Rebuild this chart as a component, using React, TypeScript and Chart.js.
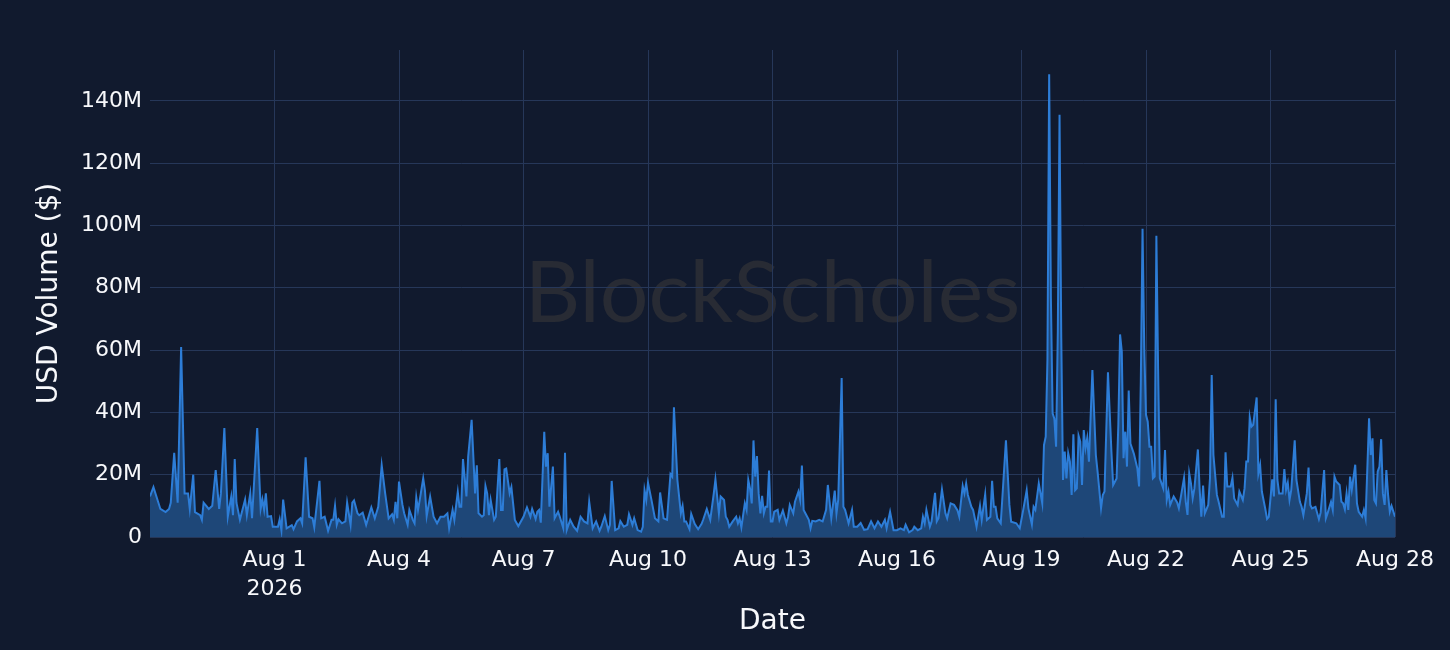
import { useEffect, useRef } from 'react';
import { Chart, registerables, Plugin } from 'chart.js';

Chart.register(...registerables);

// hours since Jul 29 2026 00:00 (hourly samples)
const hours = [
  0, 2, 6, 9, 11, 12, 14, 16, 18, 20, 22, 23, 25, 26, 29, 30, 31, 34, 36, 38, 40, 41, 43, 45, 47, 48, 49, 50, 52, 55,
  56, 58, 59, 62, 64, 65, 66, 67, 68, 70, 71, 74, 75, 76, 77, 79, 82, 83, 85, 87, 88, 90, 92, 94, 95, 98, 99, 101, 103, 105,
  106, 107, 108, 109, 111, 113, 114, 116, 117, 118, 120, 121, 123, 125, 128, 130, 132, 134, 136, 138, 140, 141, 142, 143, 144, 146, 147, 149, 150, 152,
  153, 154, 155, 156, 158, 159, 160, 162, 164, 166, 168, 170, 172, 173, 175, 176, 178, 179, 180, 181, 183, 184, 186, 188, 189, 190, 192, 193, 194, 195,
  196, 197, 199, 200, 202, 203, 204, 205, 206, 208, 209, 211, 213, 216, 218, 220, 221, 223, 224, 225, 226, 228, 229, 230, 231, 233, 234, 236, 237, 239,
  240, 241, 243, 245, 247, 249, 251, 253, 254, 256, 258, 260, 261, 263, 265, 266, 267, 269, 271, 272, 274, 276, 277, 279, 280, 282, 284, 285, 286, 287,
  288, 290, 292, 294, 295, 297, 299, 301, 302, 303, 305, 307, 308, 309, 310, 312, 313, 315, 317, 319, 320, 322, 324, 326, 327, 329, 330, 332, 333, 334,
  335, 337, 339, 340, 341, 342, 344, 345, 346, 347, 348, 349, 350, 351, 352, 353, 354, 355, 356, 357, 358, 359, 360, 361, 363, 364, 366, 368, 369, 370,
  372, 373, 375, 376, 377, 378, 379, 381, 382, 383, 385, 387, 389, 391, 392, 394, 396, 397, 398, 400, 401, 402, 404, 406, 407, 409, 411, 413, 415, 417,
  419, 421, 423, 425, 426, 428, 430, 432, 434, 436, 437, 439, 441, 442, 444, 446, 447, 448, 449, 451, 452, 454, 455, 456, 458, 460, 461, 463, 465, 467,
  468, 470, 471, 472, 473, 475, 476, 478, 480, 481, 483, 484, 486, 487, 488, 489, 490, 492, 495, 497, 498, 501, 503, 505, 507, 508, 510, 511, 512, 514,
  516, 517, 518, 519, 520, 521, 522, 523, 524, 525, 526, 527, 528, 529, 530, 531, 532, 533, 534, 535, 536, 537, 538, 539, 540, 541, 542, 543, 545, 547,
  548, 550, 551, 552, 554, 556, 557, 559, 560, 561, 562, 563, 564, 565, 566, 567, 569, 571, 572, 573, 574, 575, 576, 577, 578, 579, 580, 581, 582, 583,
  584, 585, 586, 587, 588, 589, 590, 592, 594, 595, 596, 598, 599, 600, 601, 602, 603, 604, 606, 607, 608, 609, 610, 612, 613, 614, 615, 617, 618, 620,
  621, 622, 623, 625, 626, 627, 629, 630, 632, 633, 634, 635, 636, 637, 638, 640, 641, 642, 643, 645, 646, 647, 649, 650, 651, 652, 653, 655, 656, 657,
  658, 659, 660, 662, 663, 665, 666, 667, 669, 670, 671, 672, 674, 676, 677, 679, 680, 681, 683, 684, 685, 686, 688, 689, 690, 691, 692, 693, 694, 695,
  697, 698, 699, 701, 702, 703, 705, 706, 707, 708, 709, 710, 711, 712, 713, 714, 715, 716, 717, 718, 720,
];

// USD volume in millions
const volumesM = [
  13, 16, 9, 8, 9, 11, 27, 11, 61, 14, 14, 9, 20, 8, 7, 5.5, 11, 9, 10, 21.5, 9, 14, 35, 6.5, 13, 7, 25, 11, 5.5, 12,
  7, 14, 6, 35, 9, 12, 8.7, 14, 6.5, 6.7, 3.3, 3.3, 5.7, 2.2, 12, 2.8, 3.8, 2.5, 5, 6, 4.4, 25.6, 6.5, 6, 3.1, 18, 6, 6.5, 2, 5.5,
  5.5, 10, 3.9, 5.7, 4.4, 5, 11, 3.9, 11, 11.7, 7.6, 7, 7.8, 3.9, 9.5, 6, 9.7, 23, 14, 6, 7.3, 5.5, 11.3, 6, 17.8, 10.3, 7.6, 3.9, 8.7, 5.5,
  4.4, 12.7, 8.7, 11.9, 18.8, 15, 6.7, 13, 6.5, 4.4, 6.5, 6.5, 7.6, 2.8, 8.7, 5.5, 14.5, 9.7, 9.7, 25, 13, 25.8, 37.6, 14, 23, 7.6, 6.5, 7, 16.4, 14,
  7, 11.9, 5.5, 6.5, 25, 8.7, 8.7, 21.7, 22, 14, 16, 5.5, 3.5, 6.5, 9.5, 6.5, 9, 5.8, 8.1, 8.7, 4.6, 33.8, 22.6, 26.9, 9.7, 22.6, 6, 8.1, 6.5, 2.8,
  27, 2.2, 5.5, 3.3, 2, 6.5, 5, 4.4, 11.3, 2.8, 5, 2, 3.3, 6.7, 2.2, 3.9, 18, 2.2, 2.8, 5.1, 3.3, 3.9, 7.3, 3.9, 6, 2.2, 1.7, 3.3, 15, 11.9,
  17.4, 11.9, 6, 5, 14.3, 6, 5.5, 20.2, 19.4, 41.6, 18.3, 7.6, 10, 5, 5, 2.5, 7.4, 4.2, 2.5, 4.2, 5.7, 9, 5.5, 13.8, 18.5, 7.6, 13, 11.9, 6.5, 5.5,
  3.3, 5, 6.5, 4.4, 6, 3.1, 10.8, 8.7, 18.3, 15.6, 10.8, 31, 19.4, 26, 14, 7.6, 13.2, 7.6, 9.7, 9.7, 21.3, 5, 5, 8.1, 8.7, 5.5, 8.5, 4.4, 6.5, 10.3,
  7.6, 11.3, 14.6, 11.9, 22.9, 8.7, 7.6, 5.5, 2.8, 5.2, 5, 5.5, 5, 8.7, 16.7, 6, 14.9, 7.6, 11.9, 51, 9.7, 8.7, 4.4, 8.7, 3.3, 3.3, 4.5, 2.3, 2.5, 5,
  2.8, 5, 3.3, 5.5, 2.8, 8.1, 2.2, 2.2, 2.8, 2.2, 3.9, 1.5, 2.2, 3.3, 2.2, 2.8, 6.5, 4.4, 8.7, 3.3, 5, 14.2, 5, 6, 15.3, 7.6, 6, 10.8, 10.3, 8.5,
  6.5, 16.4, 14, 17.2, 13.5, 9.7, 8.7, 3.3, 10, 5.5, 13.7, 5.5, 6.5, 18, 9.7, 9.7, 6, 4.4, 31, 10.3, 4.9, 4.4, 2.8, 8.7, 15, 9.2, 4, 9.7, 8.7, 17.2,
  10.8, 29.5, 32.2, 57, 148.5, 76.6, 39.7, 38, 29, 66, 135.5, 63.8, 18.3, 27.4, 18.8, 26.9, 24.2, 13.5, 33, 15, 15.6, 32.5, 30.6, 16.7, 34.3, 28.5, 31.7, 24.2, 53.6, 26.3,
  21, 9.2, 13.5, 14.6, 52.9, 27.4, 16.7, 18.8, 36, 65, 59.5, 25.3, 33.8, 22.6, 47, 30, 26.7, 22, 16.2, 49.9, 98.9, 60.6, 39.2, 37, 29, 29, 18.8, 19.4, 96.7, 54,
  18.8, 17.2, 15.6, 27.9, 11.9, 14.6, 10.3, 13, 11.1, 9.2, 12.4, 19, 11.3, 7.1, 20.4, 17.2, 12.4, 15.6, 28.1, 15.6, 6.5, 16.5, 7.6, 10.3, 18.8, 52, 26.3, 13.5, 11.3, 6.5,
  6.5, 27.2, 16.2, 16.2, 19, 12.4, 10.3, 14.6, 11.9, 15.6, 24.2, 24.2, 38.4, 35.4, 36, 44.8, 20.4, 23.1, 14.6, 9, 5.8, 6.5, 18.5, 13, 44.2, 18.3, 14, 14, 21.8, 15.1,
  17.4, 11.9, 15.1, 31, 18.3, 11.3, 9.7, 7, 14, 22.3, 10.3, 9.2, 9.7, 5.7, 7.8, 21.5, 6, 7.6, 11.3, 8.7, 19.4, 17.8, 16.7, 11.3, 10.8, 8.9, 14, 8.7, 19.4, 15.1,
  23.2, 10.8, 8.1, 6.5, 8.7, 6, 38.1, 26.3, 31.7, 11.9, 10.8, 21, 22.6, 31.4, 14, 10.3, 21.5, 13.5, 8.1, 10, 6.5,
];

const xTickHours = [72, 144, 216, 288, 360, 432, 504, 576, 648, 720];
const xTickLabels: (string | string[])[] = [
  ['Aug 1', '2026'], 'Aug 4', 'Aug 7', 'Aug 10', 'Aug 13', 'Aug 16', 'Aug 19', 'Aug 22', 'Aug 25', 'Aug 28',
];
const yTicks = [0, 20, 40, 60, 80, 100, 120, 140];
const yTickLabels = ['0', '20M', '40M', '60M', '80M', '100M', '120M', '140M'];

const BG = '#111a2e';
const GRID = '#263759';
const TEXT = '#f7f8fb';

// faint brand text behind the plot
const watermark: Plugin = {
  id: 'watermark',
  beforeDraw(chart) {
    const { ctx, chartArea } = chart;
    ctx.save();
    ctx.font = '86px Lato';
    ctx.fillStyle = '#282b34';
    ctx.textAlign = 'center';
    ctx.textBaseline = 'alphabetic';
    ctx.fillText(
      'BlockScholes',
      (chartArea.left + chartArea.right) / 2,
      chartArea.top + (chartArea.bottom - chartArea.top) * 0.558,
    );
    ctx.restore();
  },
};

export default function App() {
  const canvasRef = useRef<HTMLCanvasElement>(null);

  useEffect(() => {
    if (!canvasRef.current) return;

    const points = hours.map((h, i) => ({ x: h, y: volumesM[i] }));
    const tickFont = { family: 'DejaVu Sans', size: 22, lineHeight: 1.3 };
    const titleFont = { family: 'DejaVu Sans', size: 28, lineHeight: 1.2 };

    const chart = new Chart(canvasRef.current, {
      type: 'line',
      data: {
        datasets: [{
          label: 'USD Volume',
          data: points,
          borderColor: '#2d7dd7',
          backgroundColor: '#1e4778',
          borderWidth: 2,
          pointRadius: 0,
          tension: 0,
          fill: 'origin',
        }],
      },
      options: {
        animation: false,
        responsive: true,
        maintainAspectRatio: false,
        layout: { padding: { top: 50, right: 55, left: 0, bottom: 0 } },
        plugins: {
          legend: { display: false },
          tooltip: { enabled: false },
        },
        scales: {
          x: {
            type: 'linear',
            min: 0,
            max: 720,
            afterBuildTicks: (scale) => {
              scale.ticks = xTickHours.map(v => ({ value: v }));
            },
            afterFit: (scale) => {
              scale.height = 113;
            },
            ticks: {
              color: TEXT,
              font: tickFont,
              padding: 9,
              maxRotation: 0,
              autoSkip: false,
              callback: (value) => xTickLabels[xTickHours.indexOf(Number(value))] ?? '',
            },
            grid: { color: GRID, lineWidth: 1, drawTicks: false },
            border: { display: false },
            title: {
              display: true,
              text: 'Date',
              color: TEXT,
              font: titleFont,
              padding: { top: 0, bottom: 11 },
            },
          },
          y: {
            type: 'linear',
            min: 0,
            max: 156.3,
            afterBuildTicks: (scale) => {
              scale.ticks = yTicks.map(v => ({ value: v }));
            },
            afterFit: (scale) => {
              scale.width = 150;
            },
            ticks: {
              color: TEXT,
              font: tickFont,
              padding: 8,
              callback: (value) => yTickLabels[yTicks.indexOf(Number(value))] ?? '',
            },
            grid: { color: GRID, lineWidth: 1, drawTicks: false },
            border: { display: false },
            title: {
              display: true,
              text: 'USD Volume ($)',
              color: TEXT,
              font: titleFont,
              padding: { top: 33, bottom: 0 },
            },
          },
        },
      },
      plugins: [watermark],
    });

    return () => {
      chart.destroy();
    };
  }, []);

  return (
    <div style={{ position: 'fixed', left: 0, top: 0, width: 1450, height: 650, background: BG }}>
      <canvas ref={canvasRef} />
    </div>
  );
}
